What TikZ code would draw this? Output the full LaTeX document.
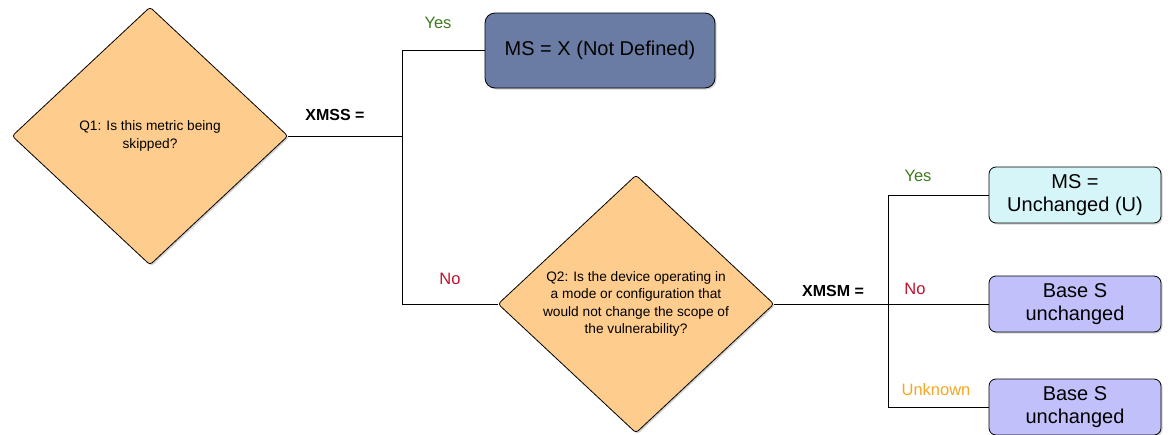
\documentclass[tikz,border=0pt]{standalone}
\usepackage{fontspec}
\setmainfont{Liberation Sans}
\usetikzlibrary{shapes.geometric,shadows}

\definecolor{qFill}{HTML}{FECC8C}
\definecolor{xFill}{HTML}{6B7CA4}
\definecolor{uFill}{HTML}{D6F5F8}
\definecolor{sFill}{HTML}{C1C0FA}
\definecolor{yesGreen}{HTML}{3F7A1E}
\definecolor{noRed}{HTML}{C0102E}
\definecolor{unkOrange}{HTML}{F5A623}

\begin{document}
\begin{tikzpicture}[
    x=1pt, y=-1pt,
    question/.style={diamond, draw, thick, fill=qFill, rounded corners=3pt,
        minimum width=276pt, minimum height=258pt, inner sep=0pt,
        font=\fontsize{13.7}{17.5}\selectfont, align=center,
        drop shadow={shadow xshift=1.5pt, shadow yshift=-1.5pt, opacity=0.35}},
    answer/.style={draw, thick, rounded corners=10pt, align=center,
        font=\fontsize{20}{23}\selectfont,
        drop shadow={shadow xshift=1.5pt, shadow yshift=-1.5pt, opacity=0.35}},
    metricLabel/.style={font=\fontsize{16}{18}\selectfont\bfseries},
    branchLabel/.style={font=\fontsize{16.5}{18}\selectfont},
    every node/.style={
        text centered,
        }
        ]
    \useasboundingbox (0,0) rectangle (1168,434);

    % questions
    \node[question] (q1) at (150, 136) {Q1: Is this metric being\\skipped?};
    \node[question] (q2) at (636, 304) {Q2: Is the device operating in\\a mode or configuration that\\would not change the scope of\\the vulnerability?};

    % outcomes
    \node[answer, fill=xFill, minimum width=230pt, minimum height=75pt] (notDefined) at (600, 50.5) {MS = X (Not Defined)};
    \node[answer, fill=uFill, minimum width=172pt, minimum height=56pt, rounded corners=7pt] (unchanged) at (1075, 195) {MS =\\Unchanged (U)};
    \node[answer, fill=sFill, minimum width=172pt, minimum height=56pt, rounded corners=7pt] (baseNo) at (1075, 304) {Base S\\unchanged};
    \node[answer, fill=sFill, minimum width=172pt, minimum height=56pt, rounded corners=7pt] (baseUnknown) at (1075, 407) {Base S\\unchanged};

    % forks
    \coordinate (fork1) at (402, 136);
    \coordinate (fork2) at (888, 304);

    \draw[thick] (q1.east) -- (fork1);
    \draw[thick] (fork1) |- (notDefined.west);
    \draw[thick] (fork1) |- (q2.west);
    \draw[thick] (q2.east) -- (fork2);
    \draw[thick] (fork2) |- (unchanged.west);
    \draw[thick] (fork2) -- (baseNo.west);
    \draw[thick] (fork2) |- (baseUnknown.west);

    % labels
    \node[metricLabel] (xmss) at (335, 115) {XMSS =};
    \node[metricLabel] (xmsm) at (833, 291) {XMSM =};
    \node[branchLabel, text=yesGreen] (yes1) at (438, 23) {Yes};
    \node[branchLabel, text=noRed] (no1) at (450, 279) {No};
    \node[branchLabel, text=yesGreen] (yes2) at (918, 176) {Yes};
    \node[branchLabel, text=noRed] (no2) at (915, 289) {No};
    \node[branchLabel, text=unkOrange] (unknown) at (936, 390) {Unknown};
\end{tikzpicture}
\end{document}
